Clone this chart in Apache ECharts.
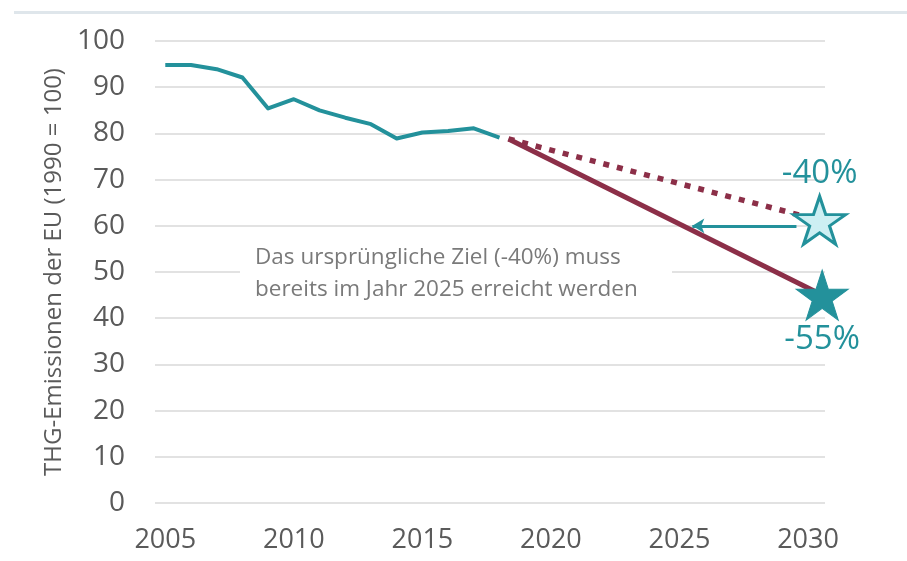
<!DOCTYPE html>
<html>
<head>
<meta charset="utf-8">
<script src="https://cdn.jsdelivr.net/npm/echarts@6/dist/echarts.min.js"></script>
<style>
html,body{margin:0;padding:0;background:#fff;}
#chart{width:907px;height:561px;}
</style>
</head>
<body>
<div id="chart"></div>
<script>
// ---- data ----
const years = [2005, 2006, 2007, 2008, 2009, 2010, 2011, 2012, 2013, 2014, 2015, 2016, 2017, 2018];
const emissions = [94.8, 94.8, 93.9, 92.1, 85.4, 87.4, 85.0, 83.4, 82.0, 78.9, 80.2, 80.5, 81.1, 79.1];
const newPathYears = [2018.35, 2030.55];
const newPathValues = [78.8, 45.0];
const oldPathYears = [2018.35, 2030.45];
const oldPathValues = [78.8, 61.2];
const arrowYears = [2029.55, 2025.5];
const arrowValue = 60;
const xTickLabels = [2005, 2010, 2015, 2020, 2025, 2030];
const yTicks = [0, 10, 20, 30, 40, 50, 60, 70, 80, 90, 100];
const oldTargetLabel = '-40%';
const newTargetLabel = '-55%';
const yTitle = 'THG-Emissionen der EU (1990 = 100)';
const noteLines = ['Das ursprüngliche Ziel (-40%) muss', 'bereits im Jahr 2025 erreicht werden'];

// ---- styles ----
const TEAL = '#23919b';
const MAROON = '#8c2f48';
const LIGHT = '#cdeff3';
const FONT = '"Open Sans", "DejaVu Sans", sans-serif';
const STAR = 'path://M50 0 L61.23 34.55 L97.55 34.55 L68.17 55.9 L79.39 90.45 L50 69.1 L20.61 90.45 L31.83 55.9 L2.45 34.55 L38.77 34.55 Z';

const chart = echarts.init(document.getElementById('chart'), null, {renderer: 'canvas'});

const option = {
  animation: false,
  backgroundColor: '#ffffff',
  grid: {left: 155, right: 82, top: 41, bottom: 58},
  xAxis: {
    type: 'value',
    min: 2004.6,
    max: 2030.66,
    axisLine: {show: false},
    axisTick: {show: false},
    splitLine: {show: false},
    axisLabel: {
      customValues: xTickLabels,
      formatter: function (v) { return String(v); },
      color: '#5a5a5a',
      fontFamily: FONT,
      fontSize: 27,
      margin: 24
    }
  },
  yAxis: {
    type: 'value',
    min: 0,
    max: 100,
    interval: 10,
    axisLine: {show: false},
    axisTick: {show: false},
    splitLine: {lineStyle: {color: '#d9d9d9', width: 1.5}},
    axisLabel: {
      color: '#5a5a5a',
      fontFamily: FONT,
      fontSize: 28,
      margin: 30,
      formatter: function (v) { return yTicks.indexOf(v) >= 0 ? String(v) : ''; }
    }
  },
  graphic: [
    {type: 'rect', shape: {x: 14, y: 11, width: 893, height: 3}, style: {fill: '#dfe6eb'}, silent: true},
    {type: 'rect', shape: {x: 240, y: 240, width: 432, height: 64}, style: {fill: '#ffffff'}, silent: true, z: 1},
    {
      type: 'text', left: 255, top: 242, z: 2,
      style: {text: noteLines.join('\n'), fill: '#7a7a7a', font: '22.5px ' + FONT, lineHeight: 32}
    },
    {
      type: 'text', x: 54, y: 272, rotation: Math.PI / 2,
      style: {text: yTitle, fill: '#5a5a5a', font: '24px ' + FONT, align: 'center', verticalAlign: 'middle'}
    }
  ],
  series: [
    {
      type: 'line', z: 3,
      data: years.map((y, i) => [y, emissions[i]]),
      symbol: 'none',
      lineStyle: {color: TEAL, width: 4, join: 'round'}
    },
    {
      type: 'line', z: 3,
      data: oldPathYears.map((y, i) => [y, oldPathValues[i]]),
      symbol: 'none',
      lineStyle: {color: MAROON, width: 5.5, type: [6, 8]}
    },
    {
      type: 'line', z: 4,
      data: newPathYears.map((y, i) => [y, newPathValues[i]]),
      symbol: 'none',
      lineStyle: {color: MAROON, width: 5}
    },
    {
      type: 'line', z: 4,
      data: [],
      symbol: 'none',
      markLine: {
        silent: true,
        symbol: ['none', 'arrow'],
        symbolSize: [11, 12],
        label: {show: false},
        lineStyle: {color: TEAL, width: 3, type: 'solid', opacity: 1},
        data: [[{coord: [arrowYears[0], arrowValue]}, {coord: [arrowYears[1], arrowValue]}]]
      }
    },
    {
      type: 'scatter', z: 6,
      symbol: STAR,
      symbolSize: [52, 48],
      data: [[oldPathYears[1], oldPathValues[1]]],
      itemStyle: {color: LIGHT, borderColor: TEAL, borderWidth: 3, opacity: 1},
      label: {show: true, position: 'top', distance: 5, formatter: oldTargetLabel, color: TEAL, fontFamily: FONT, fontSize: 33}
    },
    {
      type: 'scatter', z: 6,
      symbol: STAR,
      symbolSize: [52, 50],
      data: [[newPathYears[1], newPathValues[1]]],
      itemStyle: {color: TEAL, borderColor: TEAL, borderWidth: 1, opacity: 1},
      label: {show: true, position: 'bottom', distance: 3, formatter: newTargetLabel, color: TEAL, fontFamily: FONT, fontSize: 33}
    }
  ]
};
chart.setOption(option);
</script>
</body>
</html>
